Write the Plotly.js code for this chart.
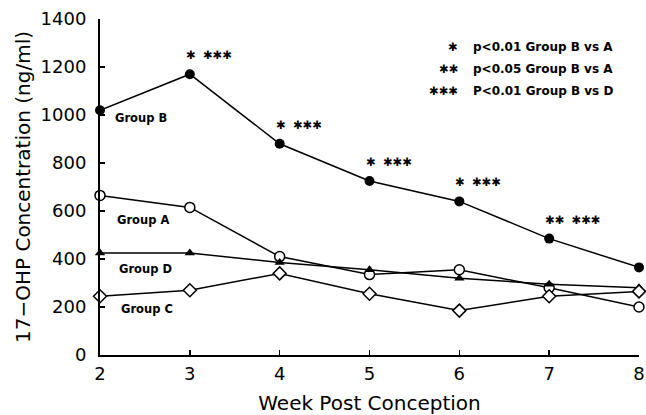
<!DOCTYPE html>
<html><head><meta charset="utf-8">
<script src="https://cdn.plot.ly/plotly-3.0.1.min.js"></script>
<style>html,body{margin:0;padding:0;background:#fff}</style>
</head><body><div id="chart" style="width:646px;height:415px"></div>
<script>
const weeks = [2, 3, 4, 5, 6, 7, 8];
const groupA = [665, 615, 410, 335, 355, 280, 200];
const groupB = [1020, 1170, 880, 725, 640, 485, 365];
const groupC = [245, 270, 340, 255, 185, 245, 265];
const groupD = [425, 425, 385, 355, 320, 295, 280];
const sigWeeks = [3, 4, 5, 6, 7];
const sigMarks = ["✱  ✱✱✱", "✱  ✱✱✱", "✱  ✱✱✱", "✱  ✱✱✱", "✱✱  ✱✱✱"];
const keyStars = ["✱", "✱✱", "✱✱✱"];
const keyTexts = ["p<0.01 Group B vs A", "p<0.05 Group B vs A", "P<0.01 Group B vs D"];
const yTicks = [0, 200, 400, 600, 800, 1000, 1200, 1400];

const lineStyle = {color: '#000', width: 1.5};
const traces = [
  {x: weeks, y: groupA, name: 'Group A', mode: 'lines+markers', line: lineStyle, cliponaxis: false,
   marker: {symbol: 'circle', size: 10, color: '#fff', line: {color: '#000', width: 1.5}}},
  {x: weeks, y: groupD, name: 'Group D', mode: 'lines+markers', line: lineStyle, cliponaxis: false,
   marker: {symbol: 'triangle-up', size: 9, color: '#000'}},
  {x: weeks, y: groupC, name: 'Group C', mode: 'lines+markers', line: lineStyle, cliponaxis: false,
   marker: {symbol: 'diamond', size: 10, color: '#fff', line: {color: '#000', width: 1.5}}},
  {x: weeks, y: groupB, name: 'Group B', mode: 'lines+markers', line: lineStyle, cliponaxis: false,
   marker: {symbol: 'circle', size: 10, color: '#000'}}
];

const annotations = [];
const lblFont = {family: 'DejaVu Sans', size: 11.5, color: '#000', weight: 'bold'};
const groupLabels = [
  {t: 'Group B', y: groupB[0], dx: 13, dy: -8},
  {t: 'Group A', y: groupA[0], dx: 15, dy: -25},
  {t: 'Group D', y: groupD[0], dx: 17, dy: -16},
  {t: 'Group C', y: groupC[0], dx: 19, dy: -13}
];
groupLabels.forEach(g => annotations.push({x: weeks[0], y: g.y, xref: 'x', yref: 'y', text: g.t,
  showarrow: false, xanchor: 'left', yanchor: 'middle', xshift: g.dx, yshift: g.dy, font: lblFont}));

const starFont = {family: 'DejaVu Sans', size: 11.5, color: '#000'};
sigWeeks.forEach((w, i) => {
  const v = groupB[weeks.indexOf(w)];
  annotations.push({x: w, y: v, xref: 'x', yref: 'y', text: sigMarks[i], showarrow: false,
    xanchor: 'left', yanchor: 'middle', xshift: -6, yshift: 19, font: starFont});
});

const keyY = [0.917, 0.851, 0.786];
keyTexts.forEach((t, i) => {
  annotations.push({x: 0.668, y: keyY[i], xref: 'paper', yref: 'paper', text: keyStars[i], showarrow: false,
    xanchor: 'right', yanchor: 'middle', font: starFont});
  annotations.push({x: 0.688, y: keyY[i], xref: 'paper', yref: 'paper', text: t, showarrow: false,
    xanchor: 'left', yanchor: 'middle', font: {family: 'DejaVu Sans', size: 12, color: '#000', weight: 'bold'}});
});

const layout = {
  width: 646, height: 415,
  margin: {l: 100, r: 7, t: 19, b: 60},
  paper_bgcolor: '#fff', plot_bgcolor: '#fff',
  showlegend: false,
  font: {family: 'DejaVu Sans', color: '#000'},
  xaxis: {range: [2, 8], tickvals: weeks, ticks: 'inside', ticklen: 5, tickwidth: 1.5, tickcolor: '#000',
    showline: true, linecolor: '#000', linewidth: 2, showgrid: false, zeroline: false,
    tickfont: {size: 18, family: 'DejaVu Sans'}, ticklabelstandoff: 1,
    title: {text: 'Week Post Conception', font: {size: 20, family: 'DejaVu Sans'}, standoff: 13}},
  yaxis: {range: [0, 1400], tickvals: yTicks, ticks: 'inside', ticklen: 5, tickwidth: 1.5, tickcolor: '#000',
    showline: true, linecolor: '#000', linewidth: 2, showgrid: false, zeroline: false,
    tickfont: {size: 18, family: 'DejaVu Sans'}, ticklabelstandoff: 8,
    title: {text: '17−OHP Concentration (ng/ml)', font: {size: 20, family: 'DejaVu Sans'}, standoff: 5}},
  annotations: annotations
};
Plotly.newPlot('chart', traces, layout, {displayModeBar: false, staticPlot: true});
</script></body></html>
